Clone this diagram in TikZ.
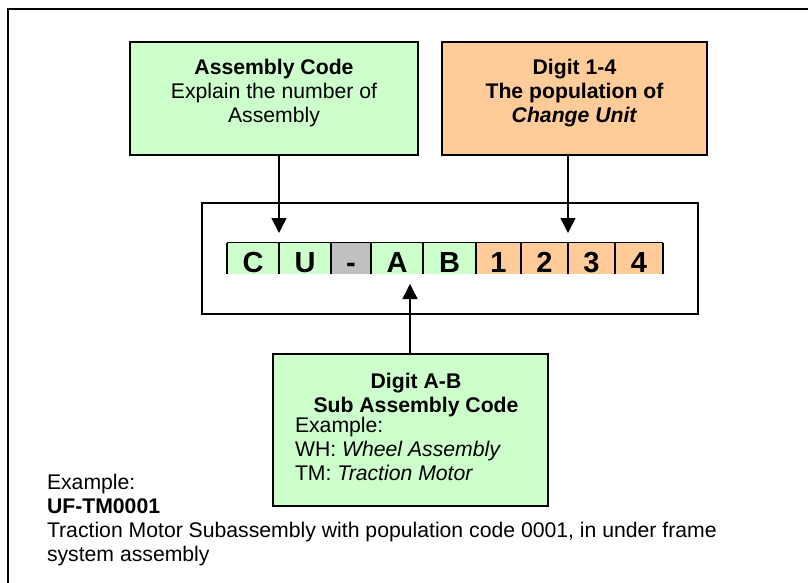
\documentclass[tikz,border=0pt]{standalone}
\usepackage{fontspec}
\setmainfont{Liberation Sans}
\usetikzlibrary{arrows.meta}
\definecolor{mint}{HTML}{CCFFCC}
\definecolor{peach}{HTML}{FFCC99}
\definecolor{slate}{HTML}{C0C0C0}
\begin{document}
\begin{tikzpicture}[x=1pt,y=-1pt,
  box/.style={draw=black,line width=1.4pt,inner sep=0pt,outer sep=0pt,rectangle},
  cell/.style={inner sep=0pt,outer sep=0pt,text height=30pt,text depth=1pt,
    font=\fontsize{29}{29}\selectfont\bfseries},
  rule/.style={line width=1.4pt},
  txt/.style={inner sep=0pt,outer sep=0pt,font=\fontsize{21.2}{24}\selectfont},
  arr/.style={line width=1.4pt,-{Triangle[length=15pt,width=15pt]}}]
\useasboundingbox (0,0) rectangle (808,583);

% outer frame (top and left edges)
\draw[line width=2pt] (8,583) -- (8,9) -- (808,9);

% top boxes
\node[box,fill=mint,minimum width=288pt,minimum height=113pt] (ga) at (274,98.5) {};
\node[box,fill=peach,minimum width=265pt,minimum height=113pt] (gb) at (574.5,98.5) {};
\node[txt,anchor=north,align=center] (gat) at (274,59)
  {\textbf{Assembly Code}\\Explain the number of\\Assembly};
\node[txt,anchor=north,align=center] (gbt) at (574.5,59)
  {\textbf{Digit 1-4}\\\textbf{The population of}\\\textbf{\textit{Change Unit}}};

% code frame
\node[box,minimum width=496pt,minimum height=111pt] (frame) at (450,258.5) {};

% code cells
\node[cell,fill=mint,minimum width=52pt] (cC) at (253,258) {C};
\node[cell,fill=mint,minimum width=52pt] (cU) at (305,258) {U};
\node[cell,fill=slate,minimum width=40pt] (cD) at (351,258) {-};
\node[cell,fill=mint,minimum width=52pt] (cA) at (397,258) {A};
\node[cell,fill=mint,minimum width=53pt] (cB) at (449.5,258) {B};
\node[cell,fill=peach,minimum width=45pt] (c1) at (498.5,258) {1};
\node[cell,fill=peach,minimum width=47pt] (c2) at (544.5,258) {2};
\node[cell,fill=peach,minimum width=47pt] (c3) at (591.5,258) {3};
\node[cell,fill=peach,minimum width=48pt] (c4) at (639,258) {4};
\draw[rule] (cC.north west) -- (c4.north east);
\foreach \c in {cC,cU,cD,cA,cB,c1,c2,c3,c4}
  \draw[rule] (\c.north west) -- (\c.south west);
\draw[rule] (c4.north east) -- (c4.south east);

% sub assembly box
\node[box,fill=mint,minimum width=275pt,minimum height=152pt] (sub) at (410.5,430) {};
\node[txt,anchor=north,align=center] (subh) at (416,373)
  {\textbf{Digit A-B}\\\textbf{Sub Assembly Code}};
\node[txt,anchor=north west,align=left] (subx) at (295,417)
  {Example:\\WH: \textit{Wheel Assembly}\\TM: \textit{Traction Motor}};

% arrows
\coordinate (tipL) at (279,233);
\coordinate (tipR) at (568,233);
\coordinate (tipB) at (410,284);
\draw[arr] (ga.south -| tipL) -- (tipL);
\draw[arr] (gb.south -| tipR) -- (tipR);
\draw[arr] (sub.north -| tipB) -- (tipB);

% example note
\node[txt,anchor=north west,align=left] (note) at (47,474)
  {Example:\\\textbf{UF-TM0001}\\Traction Motor Subassembly with population code 0001, in under frame\\system assembly};
\end{tikzpicture}
\end{document}
